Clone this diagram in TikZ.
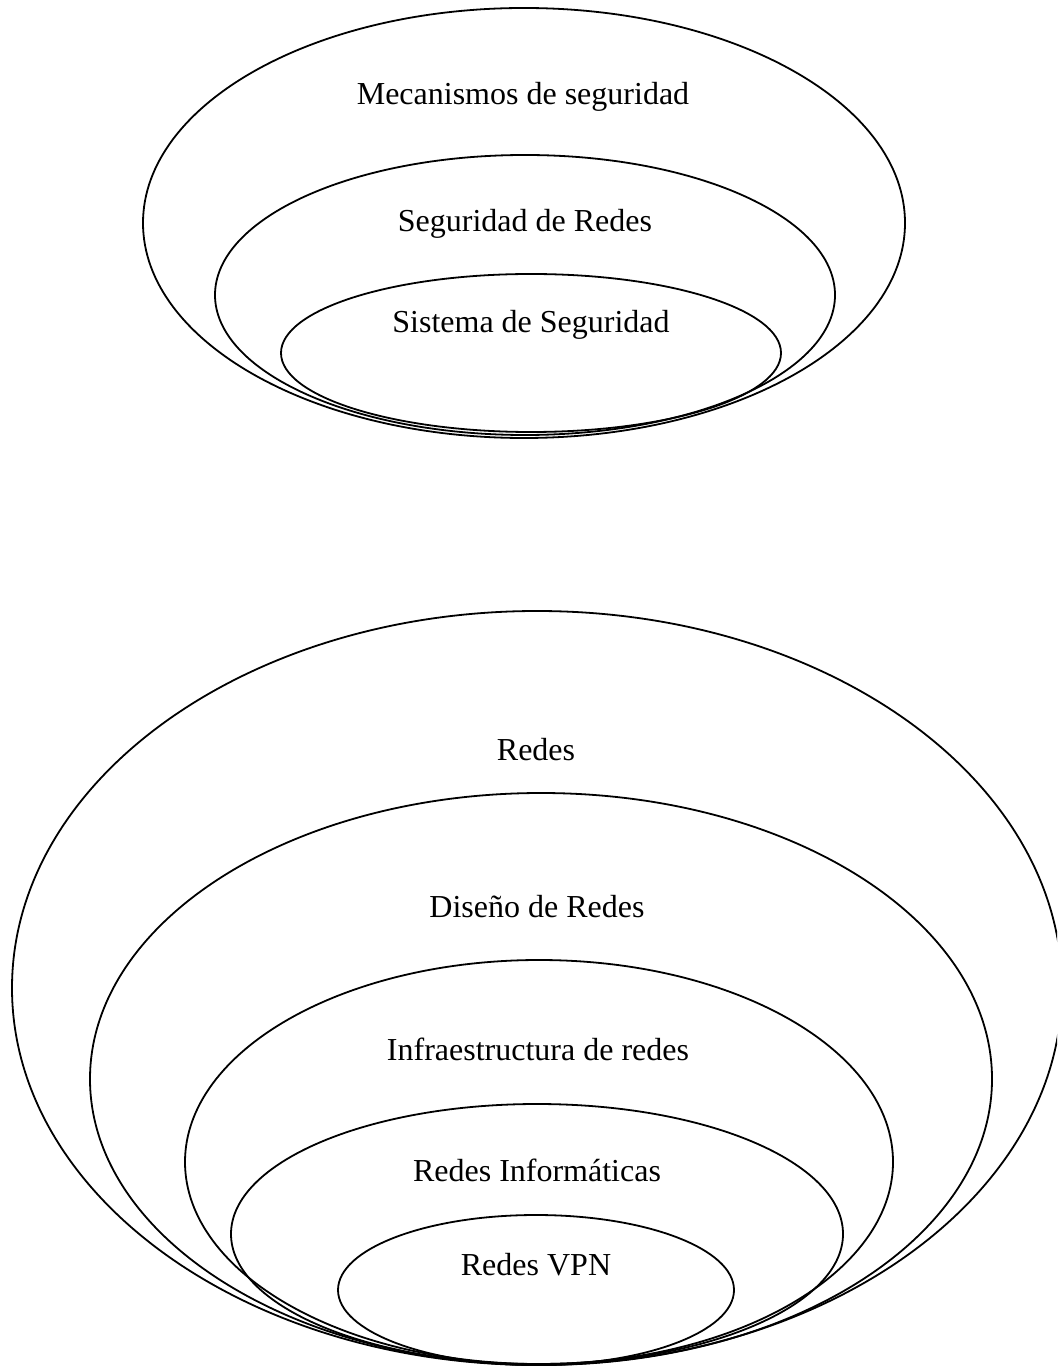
\documentclass[tikz,border=0pt]{standalone}
\usepackage{fontspec}
\setmainfont{Liberation Serif}
\usetikzlibrary{shapes}
\tikzstyle{ring}=[ellipse,draw=black,line width=0.9pt,inner sep=0pt]
\tikzstyle{lbl}=[inner sep=0pt,font=\fontsize{16}{19}\selectfont]

\begin{document}
\begin{tikzpicture}[x=0.5pt,y=-0.5pt]
    \useasboundingbox (0,0) rectangle (1057,1368);
    \clip (0,0) rectangle (1057,1368);
    % top group
    \node [style=ring,minimum width=381pt,minimum height=215pt] (mec) at (524,223) {};
    \node [style=ring,minimum width=310pt,minimum height=140pt] (segred) at (525,295) {};
    \node [style=ring,minimum width=250pt,minimum height=79pt] (sisseg) at (531,353) {};
    \node [style=lbl] (mectxt) at (523,97) {Mecanismos de seguridad};
    \node [style=lbl] (segtxt) at (525,224) {Seguridad de Redes};
    \node [style=lbl] (sistxt) at (531,325) {Sistema de Seguridad};
    % bottom group
    \node [style=ring,minimum width=525pt,minimum height=377pt] (redes) at (537,988) {};
    \node [style=ring,minimum width=451pt,minimum height=286pt] (diseno) at (541,1079) {};
    \node [style=ring,minimum width=354pt,minimum height=202pt] (infra) at (539,1162) {};
    \node [style=ring,minimum width=306pt,minimum height=130pt] (info) at (537,1234) {};
    \node [style=ring,minimum width=198pt,minimum height=75pt] (vpn) at (536,1290) {};
    \node [style=lbl] (redtxt) at (536,750) {Redes};
    \node [style=lbl] (distxt) at (537,907) {Diseño de Redes};
    \node [style=lbl] (inftxt) at (538,1049) {Infraestructura de redes};
    \node [style=lbl] (infotxt) at (537,1170) {Redes Informáticas};
    \node [style=lbl] (vpntxt) at (536,1265) {Redes VPN};
  \end{tikzpicture}
\end{document}
